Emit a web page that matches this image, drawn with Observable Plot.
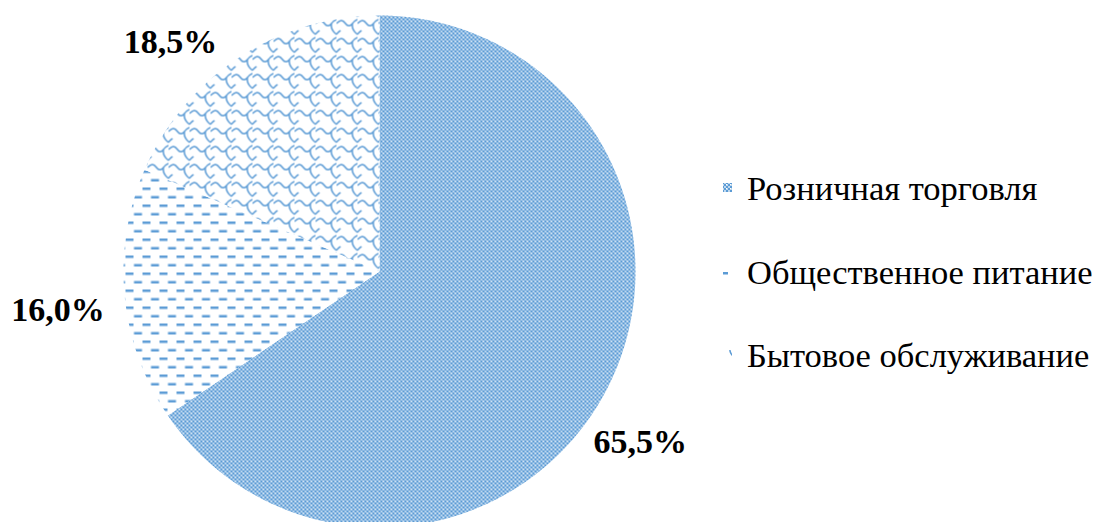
<!DOCTYPE html>
<html><head><meta charset="utf-8">
<script src="https://cdn.jsdelivr.net/npm/d3@7"></script>
<script src="https://cdn.jsdelivr.net/npm/@observablehq/plot@0.6"></script>
<style>body{margin:0;background:#fff} #chart{position:relative;width:1096px;height:522px;overflow:hidden}</style>
</head><body><div id="chart"></div>
<script>
const categories = ["Розничная торговля", "Общественное питание", "Бытовое обслуживание"];
const shares = [65.5, 16.0, 18.5];
const labels = ["65,5%", "16,0%", "18,5%"];
const patterns = ["url(#pCheck)", "url(#pDash)", "url(#pWave)"];

const arcs = d3.pie().sort(null).value(d => d)(shares);
const slicePoints = [];
arcs.forEach((a, i) => {
  const n = Math.max(2, Math.ceil((a.endAngle - a.startAngle) / 0.005));
  slicePoints.push({name: categories[i], x: 0, y: 0});
  for (let k = 0; k <= n; k++) {
    const t = a.startAngle + (a.endAngle - a.startAngle) * k / n;
    slicePoints.push({name: categories[i], x: Math.sin(t), y: Math.cos(t)});
  }
  slicePoints.push({name: categories[i], x: 0, y: 0});
});
const labelR = 1.21;
const labelData = arcs.map((a, i) => {
  const m = (a.startAngle + a.endAngle) / 2;
  return {label: labels[i], x: labelR * Math.sin(m), y: labelR * Math.cos(m)};
});
const nudges = [[-13, 26], [-13, 9], [-39, 30]];
const font = "'Times New Roman', 'Liberation Serif', serif";

const svg = Plot.plot({
  width: 1096, height: 522,
  style: {background: "#fff", overflow: "hidden"},
  x: {domain: [-1, 1], range: [123, 635], axis: null},
  y: {domain: [-1, 1], range: [527, 15], axis: null},
  color: {domain: categories, range: patterns},
  marks: [
    Plot.line(slicePoints, {x: "x", y: "y", z: "name", fill: "name", stroke: "none", curve: "linear"}),
    ...labelData.map((d, i) => Plot.text([d], {
      x: "x", y: "y", text: "label", dx: nudges[i][0], dy: nudges[i][1],
      fontSize: 34, fontWeight: "bold", fontFamily: font, fill: "#000"
    }))
  ]
});

const blue = "#5B9BD5", light = "#BDD7EE";
d3.select(svg).insert("defs", ":first-child").html(`
  <pattern id="pCheck" patternUnits="userSpaceOnUse" width="4" height="4">
    <rect width="4" height="4" fill="${light}"/>
    <rect x="0" y="0" width="2" height="2" fill="${blue}"/>
    <rect x="2" y="2" width="2" height="2" fill="${blue}"/>
    <rect x="2" y="0" width="1" height="1" fill="#ffffff"/>
  </pattern>
  <pattern id="pDash" patternUnits="userSpaceOnUse" x="6" y="0" width="17" height="17">
    <rect width="17" height="17" fill="#fff"/>
    <rect x="0" y="0" width="8" height="2.5" fill="${blue}"/>
    <rect x="8.5" y="8.5" width="8" height="2.5" fill="${blue}"/>
  </pattern>
  <pattern id="pWave" patternUnits="userSpaceOnUse" width="21" height="18">
    <rect width="21" height="18" fill="#fff"/>
    <path d="M0,5 C4,1 6,1 9,5 C11,8 14,8 16,5 C17,3 19,2 21,1 M16,5 C15,10 17,13 21,16 M0,16 C1,14 3,13 4,12" stroke="${blue}" stroke-width="1.5" fill="none"/>
  </pattern>
`);

const lg = d3.select(svg).append("g").attr("font-family", font).attr("font-size", 34.5).attr("text-anchor", "start");
const rows = [200, 284, 367];
categories.forEach((c, i) => {
  lg.append("rect").attr("x", 723).attr("y", rows[i] - 17).attr("width", 9).attr("height", 9).attr("fill", patterns[i]);
  lg.append("text").attr("x", 747).attr("y", rows[i]).attr("fill", "#000").text(c);
});

document.getElementById("chart").appendChild(svg);
</script>
</body></html>
